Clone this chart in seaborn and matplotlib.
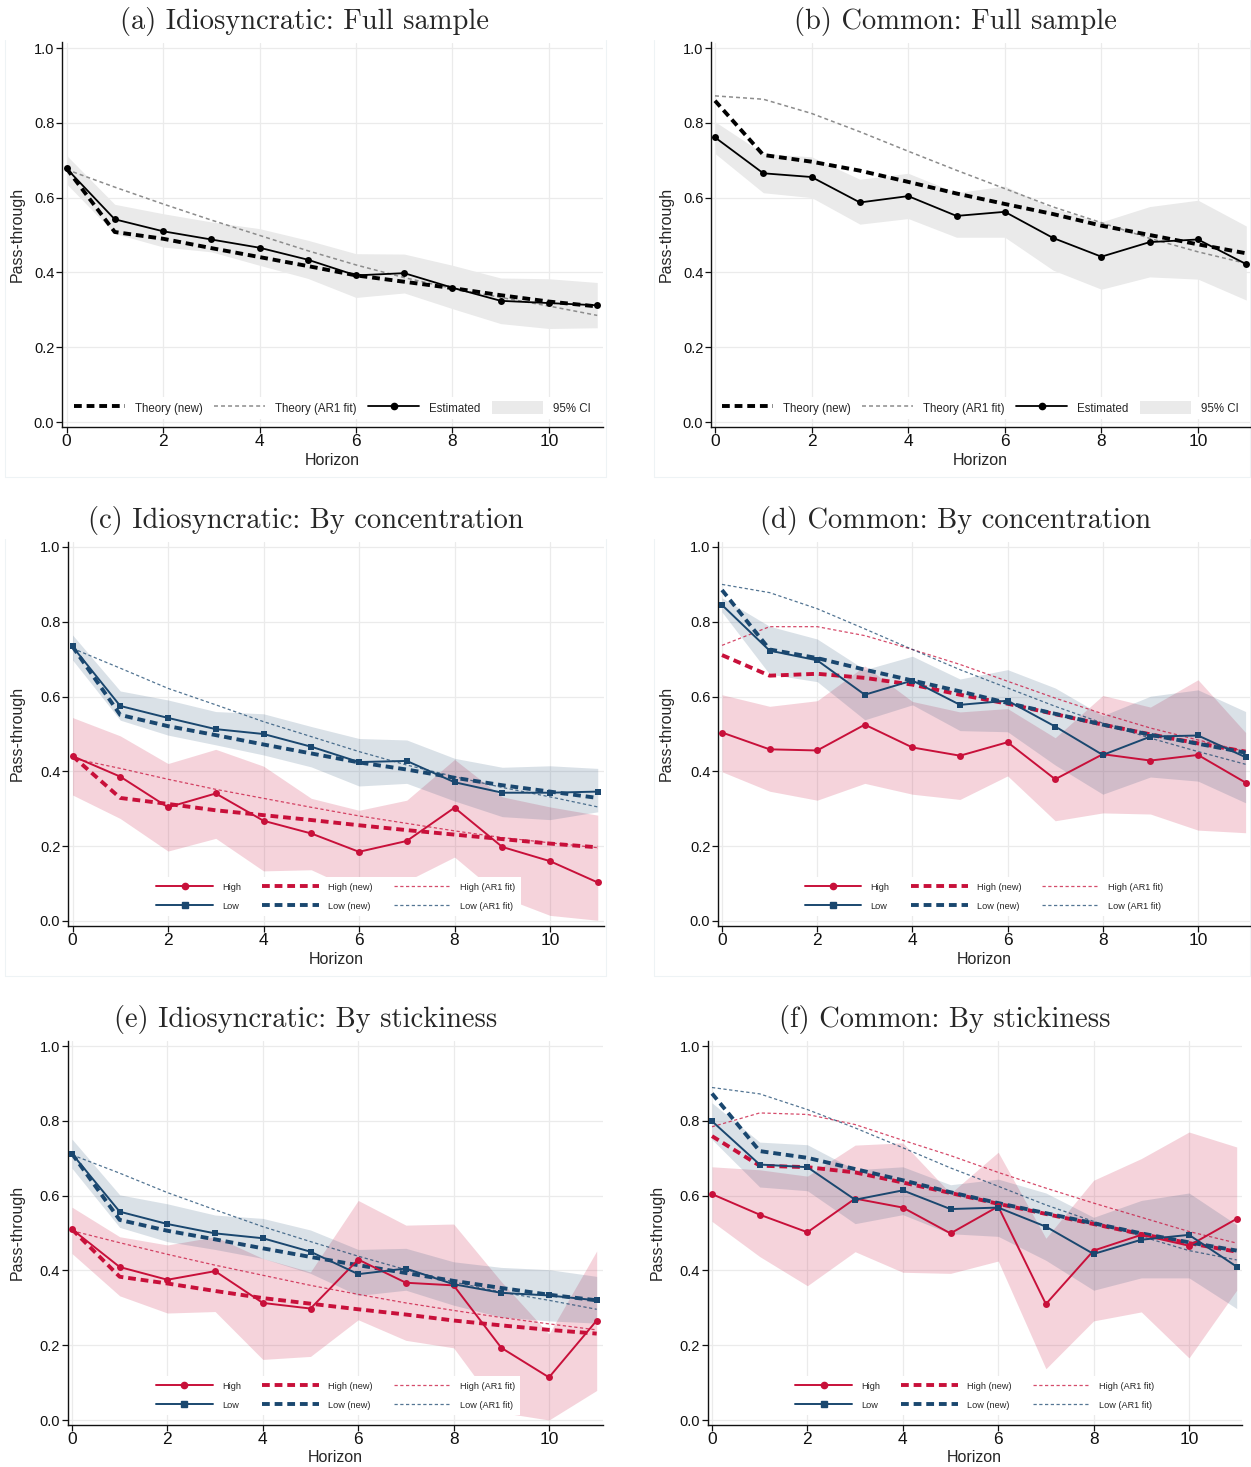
import numpy as np
import pandas as pd
import matplotlib
matplotlib.use("Agg")
import matplotlib.pyplot as plt
from matplotlib.lines import Line2D
from matplotlib.patches import Patch
import seaborn as sns

sns.set_theme(style="white")
plt.rcParams['font.family'] = ['Liberation Sans', 'DejaVu Sans']

# ---------------------------------------------------------------- data
horizon = list(range(12))

# (a) Idiosyncratic: full sample
a_est = [0.678, 0.542, 0.510, 0.488, 0.466, 0.434, 0.392, 0.398, 0.359, 0.324, 0.318, 0.312]
a_new = [0.678, 0.508, 0.490, 0.465, 0.441, 0.417, 0.392, 0.375, 0.358, 0.339, 0.322, 0.309]
a_ar1 = [0.675, 0.628, 0.583, 0.540, 0.499, 0.458, 0.420, 0.386, 0.357, 0.333, 0.310, 0.285]
a_lo = [0.637, 0.504, 0.468, 0.455, 0.419, 0.384, 0.333, 0.345, 0.303, 0.263, 0.250, 0.252]
a_hi = [0.713, 0.582, 0.557, 0.535, 0.517, 0.486, 0.450, 0.449, 0.419, 0.385, 0.383, 0.373]

# (b) Common: full sample
b_est = [0.761, 0.665, 0.655, 0.587, 0.604, 0.551, 0.562, 0.492, 0.442, 0.481, 0.488, 0.422]
b_new = [0.859, 0.714, 0.696, 0.672, 0.642, 0.611, 0.583, 0.556, 0.525, 0.500, 0.475, 0.451]
b_ar1 = [0.872, 0.863, 0.825, 0.776, 0.724, 0.673, 0.624, 0.575, 0.533, 0.491, 0.455, 0.424]
b_lo = [0.718, 0.613, 0.600, 0.529, 0.544, 0.494, 0.494, 0.406, 0.355, 0.388, 0.382, 0.326]
b_hi = [0.803, 0.718, 0.709, 0.649, 0.665, 0.613, 0.631, 0.571, 0.535, 0.576, 0.593, 0.524]

# (c) Idiosyncratic: by concentration
c_low_est = [0.734, 0.575, 0.543, 0.513, 0.500, 0.466, 0.425, 0.428, 0.371, 0.343, 0.343, 0.346]
c_low_new = [0.734, 0.551, 0.521, 0.497, 0.472, 0.448, 0.424, 0.405, 0.383, 0.363, 0.346, 0.329]
c_low_ar1 = [0.729, 0.676, 0.622, 0.578, 0.533, 0.493, 0.453, 0.417, 0.386, 0.357, 0.332, 0.305]
c_low_lo = [0.698, 0.537, 0.497, 0.471, 0.444, 0.412, 0.361, 0.368, 0.321, 0.279, 0.271, 0.292]
c_low_hi = [0.765, 0.615, 0.591, 0.560, 0.554, 0.520, 0.488, 0.484, 0.435, 0.411, 0.415, 0.408]
c_high_est = [0.441, 0.386, 0.304, 0.341, 0.268, 0.234, 0.185, 0.214, 0.303, 0.198, 0.160, 0.103]
c_high_new = [0.441, 0.329, 0.313, 0.296, 0.283, 0.270, 0.256, 0.243, 0.231, 0.219, 0.207, 0.197]
c_high_ar1 = [0.435, 0.408, 0.379, 0.352, 0.328, 0.304, 0.281, 0.261, 0.241, 0.223, 0.209, 0.196]
c_high_lo = [0.337, 0.274, 0.187, 0.221, 0.134, 0.137, 0.078, 0.107, 0.171, 0.064, 0.015, 0.002]
c_high_hi = [0.544, 0.495, 0.421, 0.459, 0.414, 0.328, 0.296, 0.323, 0.432, 0.332, 0.305, 0.283]

# (d) Common: by concentration
d_low_est = [0.845, 0.723, 0.697, 0.605, 0.643, 0.578, 0.589, 0.520, 0.444, 0.493, 0.496, 0.438]
d_low_new = [0.885, 0.726, 0.703, 0.672, 0.643, 0.614, 0.583, 0.554, 0.525, 0.498, 0.474, 0.450]
d_low_ar1 = [0.900, 0.878, 0.835, 0.781, 0.726, 0.672, 0.623, 0.574, 0.529, 0.489, 0.453, 0.419]
d_low_lo = [0.826, 0.660, 0.640, 0.538, 0.578, 0.509, 0.506, 0.417, 0.339, 0.385, 0.374, 0.316]
d_low_hi = [0.864, 0.788, 0.754, 0.672, 0.708, 0.647, 0.672, 0.623, 0.549, 0.601, 0.618, 0.560]
d_high_est = [0.504, 0.459, 0.456, 0.525, 0.464, 0.442, 0.478, 0.379, 0.446, 0.429, 0.444, 0.370]
d_high_new = [0.711, 0.656, 0.661, 0.650, 0.632, 0.605, 0.581, 0.553, 0.525, 0.499, 0.475, 0.453]
d_high_ar1 = [0.737, 0.787, 0.787, 0.763, 0.726, 0.686, 0.641, 0.596, 0.554, 0.516, 0.484, 0.453]
d_high_lo = [0.399, 0.347, 0.323, 0.368, 0.339, 0.325, 0.388, 0.268, 0.289, 0.286, 0.243, 0.236]
d_high_hi = [0.605, 0.574, 0.589, 0.682, 0.587, 0.559, 0.568, 0.490, 0.603, 0.572, 0.645, 0.504]

# (e) Idiosyncratic: by stickiness
e_low_est = [0.712, 0.557, 0.524, 0.499, 0.486, 0.450, 0.390, 0.405, 0.363, 0.340, 0.333, 0.320]
e_low_new = [0.712, 0.535, 0.506, 0.483, 0.459, 0.436, 0.414, 0.393, 0.372, 0.353, 0.335, 0.320]
e_low_ar1 = [0.709, 0.660, 0.608, 0.562, 0.517, 0.477, 0.438, 0.402, 0.369, 0.342, 0.320, 0.296]
e_low_lo = [0.673, 0.515, 0.477, 0.456, 0.432, 0.392, 0.333, 0.347, 0.307, 0.275, 0.265, 0.259]
e_low_hi = [0.751, 0.602, 0.578, 0.548, 0.539, 0.508, 0.456, 0.459, 0.423, 0.408, 0.402, 0.384]
e_high_est = [0.510, 0.409, 0.375, 0.398, 0.313, 0.298, 0.429, 0.367, 0.360, 0.193, 0.114, 0.266]
e_high_new = [0.510, 0.383, 0.365, 0.345, 0.326, 0.311, 0.296, 0.282, 0.266, 0.253, 0.241, 0.231]
e_high_ar1 = [0.506, 0.474, 0.443, 0.414, 0.387, 0.360, 0.336, 0.313, 0.293, 0.274, 0.257, 0.241]
e_high_lo = [0.445, 0.332, 0.286, 0.290, 0.162, 0.170, 0.268, 0.213, 0.193, 0.020, 0.000, 0.079]
e_high_hi = [0.569, 0.490, 0.468, 0.490, 0.432, 0.396, 0.587, 0.521, 0.524, 0.370, 0.230, 0.452]

# (f) Common: by stickiness
f_low_est = [0.799, 0.683, 0.676, 0.589, 0.614, 0.564, 0.568, 0.517, 0.444, 0.482, 0.495, 0.410]
f_low_new = [0.873, 0.719, 0.701, 0.671, 0.641, 0.609, 0.580, 0.553, 0.526, 0.499, 0.475, 0.453]
f_low_ar1 = [0.889, 0.872, 0.830, 0.781, 0.728, 0.674, 0.625, 0.575, 0.531, 0.491, 0.453, 0.428]
f_low_lo = [0.750, 0.623, 0.613, 0.525, 0.549, 0.498, 0.491, 0.427, 0.347, 0.380, 0.380, 0.298]
f_low_hi = [0.848, 0.743, 0.736, 0.669, 0.677, 0.629, 0.644, 0.607, 0.542, 0.587, 0.607, 0.522]
f_high_est = [0.604, 0.549, 0.502, 0.592, 0.568, 0.499, 0.571, 0.310, 0.453, 0.495, 0.466, 0.538]
f_high_new = [0.759, 0.680, 0.676, 0.662, 0.635, 0.607, 0.578, 0.551, 0.524, 0.497, 0.473, 0.450]
f_high_ar1 = [0.784, 0.821, 0.817, 0.790, 0.748, 0.707, 0.662, 0.620, 0.580, 0.542, 0.504, 0.473]
f_high_lo = [0.531, 0.437, 0.359, 0.450, 0.395, 0.392, 0.425, 0.137, 0.265, 0.289, 0.166, 0.347]
f_high_hi = [0.677, 0.669, 0.652, 0.735, 0.741, 0.606, 0.716, 0.486, 0.641, 0.699, 0.770, 0.730]

titles = ["(a) Idiosyncratic: Full sample", "(b) Common: Full sample",
          "(c) Idiosyncratic: By concentration", "(d) Common: By concentration",
          "(e) Idiosyncratic: By stickiness", "(f) Common: By stickiness"]
x_ticks = [0, 2, 4, 6, 8, 10]
y_ticks = [0.0, 0.2, 0.4, 0.6, 0.8, 1.0]
y_ticklabels = ["0.0", "0.2", "0.4", "0.6", "0.8", "1.0"]

# ---------------------------------------------------------------- styling
W, H = 1251, 1467
RED = "#C8103A"
BLUE = "#1A476F"
BLACK = "#000000"
GREY_DOT = "#8C8C8C"
CI_GREY = "#EAEAEA"
NEW_DASH = (0, (2.0, 1.25))
AR1_DASH = (0, (2.6, 2.0))

fig = plt.figure(figsize=(W / 100, H / 100), dpi=100)
fig.patch.set_facecolor("white")

# panel frames in pixels: x of h=0, px per horizon step, left/right spine,
# y of 0.0 and 1.0, title centre, y-label x, x-label centre
panels = [
    dict(x0=66.5, ux=48.25, left=62.0, right=603.0, y0=422, y1=48, tx=305, ty=22, ylx=17, xlx=332, xly=460),
    dict(x0=715.0, ux=48.3, left=711.0, right=1250.0, y0=422, y1=48, tx=955, ty=22, ylx=666, xlx=980, xly=460),
    dict(x0=72.5, ux=47.75, left=68.0, right=603.5, y0=921, y1=547, tx=306, ty=521, ylx=17, xlx=335, xly=959),
    dict(x0=722.0, ux=47.6, left=718.0, right=1250.0, y0=921, y1=547, tx=955, ty=521, ylx=666, xlx=984, xly=959),
    dict(x0=72.0, ux=47.7, left=67.5, right=603.0, y0=1420, y1=1046, tx=306, ty=1020, ylx=17, xlx=335, xly=1458),
    dict(x0=712.0, ux=47.7, left=707.5, right=1242.0, y0=1420, y1=1046, tx=945, ty=1020, ylx=657, xlx=974, xly=1458),
]


def make_axes(p):
    bottom = p["y0"] + 4.7
    top = p["y1"] - 5.5
    ax = fig.add_axes([p["left"] / W, 1 - bottom / H,
                       (p["right"] - p["left"]) / W, (bottom - top) / H])
    ax.set_xlim((p["left"] - p["x0"]) / p["ux"], (p["right"] - p["x0"]) / p["ux"])
    uy = p["y0"] - p["y1"]
    ax.set_ylim(-(bottom - p["y0"]) / uy, 1 + (p["y1"] - top) / uy)
    ax.set_facecolor("white")
    for s in ["top", "right"]:
        ax.spines[s].set_visible(False)
    for s in ["left", "bottom"]:
        ax.spines[s].set_color("#111111")
        ax.spines[s].set_linewidth(1.0)
    ax.set_xticks(x_ticks)
    ax.set_yticks(y_ticks)
    ax.set_yticklabels(y_ticklabels)
    ax.grid(True, color="#EBEBEB", lw=0.9)
    ax.set_axisbelow(True)
    ax.tick_params(axis="x", labelsize=12.5, length=4, width=0.9, pad=1.5,
                   direction="out", bottom=True, colors="#111111")
    ax.tick_params(axis="y", labelsize=10.5, length=4, width=0.9, pad=1.5,
                   direction="out", left=True, colors="#111111")
    ax.set_xlabel("Horizon", fontsize=11.5)
    ax.set_ylabel("Pass-through", fontsize=11.5)
    w = p["right"] - p["left"]
    h = bottom - top
    ax.yaxis.set_label_coords((p["ylx"] - p["left"]) / w, 0.5)
    ax.yaxis.label.set_va("center")
    ax.xaxis.set_label_coords((p["xlx"] - p["left"]) / w, -(p["xly"] - bottom) / h)
    ax.xaxis.label.set_va("center")
    fig.text(p["tx"] / W, 1 - p["ty"] / H, titles[panels.index(p)],
             family="cmr10", fontsize=20.5, ha="center", va="center")
    return ax


def line(ax, y, color, lw, ls="-", marker=None, ms=0, alpha=1.0, z=3):
    df = pd.DataFrame({"h": horizon, "v": y})
    sns.lineplot(data=df, x="h", y="v", ax=ax, color=color, lw=lw, linestyle=ls,
                 marker=marker, markersize=ms, markeredgecolor=color,
                 markerfacecolor=color, markeredgewidth=0, alpha=alpha,
                 legend=False, zorder=z, solid_capstyle="butt", dash_capstyle="butt")
    ax.set_xlabel("Horizon", fontsize=11.5)
    ax.set_ylabel("Pass-through", fontsize=11.5)


def full_sample(ax, est, new, ar1, lo, hi):
    ax.fill_between(horizon, lo, hi, color=CI_GREY, lw=0, zorder=1)
    line(ax, ar1, GREY_DOT, 1.1, AR1_DASH, z=2)
    line(ax, new, BLACK, 2.8, NEW_DASH, z=3)
    line(ax, est, BLACK, 1.3, "-", "o", 5.0, z=4)
    handles = [
        Line2D([], [], color=BLACK, lw=2.8, linestyle=NEW_DASH, dash_capstyle="butt"),
        Line2D([], [], color=GREY_DOT, lw=1.1, linestyle=AR1_DASH),
        Line2D([], [], color=BLACK, lw=1.3, marker="o", markersize=4.5),
        Patch(facecolor=CI_GREY, edgecolor="none"),
    ]
    labels = ["Theory (new)", "Theory (AR1 fit)", "Estimated", "95% CI"]
    leg = ax.legend(handles, labels, ncol=4, loc="lower center", bbox_to_anchor=(0.5, 0.006),
                    fontsize=8.3, handlelength=4.4, handleheight=1.4, handletextpad=0.9,
                    columnspacing=1.0, frameon=True, facecolor="white", edgecolor="none",
                    framealpha=1, fancybox=False, borderpad=0.35)
    leg.set_zorder(6)


def split_sample(ax, hi_est, hi_new, hi_ar1, hi_lo, hi_hi,
                 lo_est, lo_new, lo_ar1, lo_lo, lo_hi):
    ax.fill_between(horizon, hi_lo, hi_hi, color=RED, alpha=0.18, lw=0, zorder=1)
    ax.fill_between(horizon, lo_lo, lo_hi, color=BLUE, alpha=0.16, lw=0, zorder=1)
    line(ax, hi_ar1, RED, 0.9, AR1_DASH, alpha=0.75, z=2)
    line(ax, lo_ar1, BLUE, 0.9, AR1_DASH, alpha=0.75, z=2)
    line(ax, hi_est, RED, 1.4, "-", "o", 5.0, z=4)
    line(ax, lo_est, BLUE, 1.4, "-", "s", 5.0, z=4)
    line(ax, hi_new, RED, 2.8, NEW_DASH, z=3)
    line(ax, lo_new, BLUE, 2.8, NEW_DASH, z=3)
    handles = [
        Line2D([], [], color=RED, lw=1.4, marker="o", markersize=4.5),
        Line2D([], [], color=BLUE, lw=1.4, marker="s", markersize=4.5),
        Line2D([], [], color=RED, lw=2.8, linestyle=NEW_DASH, dash_capstyle="butt"),
        Line2D([], [], color=BLUE, lw=2.8, linestyle=NEW_DASH, dash_capstyle="butt"),
        Line2D([], [], color=RED, lw=0.9, linestyle=AR1_DASH, alpha=0.75),
        Line2D([], [], color=BLUE, lw=0.9, linestyle=AR1_DASH, alpha=0.75),
    ]
    labels = ["High", "Low", "High (new)", "Low (new)", "High (AR1 fit)", "Low (AR1 fit)"]
    leg = ax.legend(handles, labels, ncol=3, loc="lower center", bbox_to_anchor=(0.5, 0.013),
                    fontsize=6.6, handlelength=6.2, handletextpad=1.0, columnspacing=2.3,
                    labelspacing=1.1, frameon=True, facecolor="white", edgecolor="none",
                    framealpha=1, fancybox=False, borderpad=0.6)
    leg.set_zorder(6)


axes = [make_axes(p) for p in panels]

full_sample(axes[0], a_est, a_new, a_ar1, a_lo, a_hi)
full_sample(axes[1], b_est, b_new, b_ar1, b_lo, b_hi)
split_sample(axes[2], c_high_est, c_high_new, c_high_ar1, c_high_lo, c_high_hi,
             c_low_est, c_low_new, c_low_ar1, c_low_lo, c_low_hi)
split_sample(axes[3], d_high_est, d_high_new, d_high_ar1, d_high_lo, d_high_hi,
             d_low_est, d_low_new, d_low_ar1, d_low_lo, d_low_hi)
split_sample(axes[4], e_high_est, e_high_new, e_high_ar1, e_high_lo, e_high_hi,
             e_low_est, e_low_new, e_low_ar1, e_low_lo, e_low_hi)
split_sample(axes[5], f_high_est, f_high_new, f_high_ar1, f_high_lo, f_high_hi,
             f_low_est, f_low_new, f_low_ar1, f_low_lo, f_low_hi)

# faint outlines of the individual graph regions (open at the top)
frame_col = "#EEF3F5"
for (x_a, x_b, y_a, y_b) in [(5, 606, 40, 477), (654, 1250, 40, 477),
                             (5, 606, 539, 976), (654, 1250, 539, 976)]:
    xs = [x_a / W, x_a / W, x_b / W, x_b / W]
    ys = [1 - y_a / H, 1 - y_b / H, 1 - y_b / H, 1 - y_a / H]
    fig.add_artist(Line2D(xs, ys, color=frame_col, lw=0.8, zorder=0))

fig.savefig("out.png", dpi=100, facecolor="white")
